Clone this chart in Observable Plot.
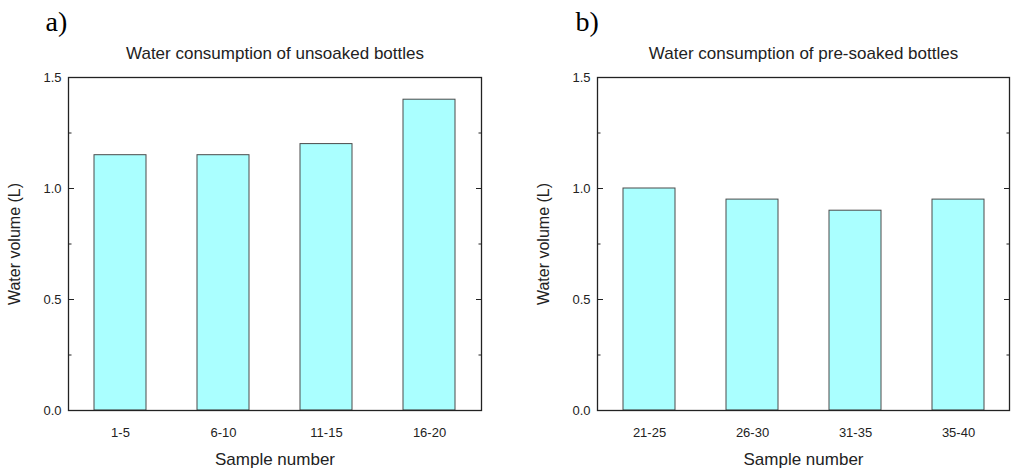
<!DOCTYPE html>
<html>
<head>
<meta charset="utf-8">
<script src="https://cdn.jsdelivr.net/npm/d3@7"></script>
<script src="https://cdn.jsdelivr.net/npm/@observablehq/plot@0.6"></script>
<style>
  html, body { margin: 0; padding: 0; background: #fff; }
  #fig { display: flex; width: 1011px; height: 471px; }
</style>
</head>
<body>
<div id="fig"></div>
<script>
const catsA = ["1-5", "6-10", "11-15", "16-20"];
const valsA = [1.15, 1.15, 1.2, 1.4];
const catsB = ["21-25", "26-30", "31-35", "35-40"];
const valsB = [1.0, 0.95, 0.9, 0.95];
const majorTicks = [0, 0.5, 1.0, 1.5];
const minorTicks = [0.25, 0.75, 1.25];
const titleA = "Water consumption of unsoaked bottles";
const titleB = "Water consumption of pre-soaked bottles";
const xLabel = "Sample number";
const yLabel = "Water volume (L)";

function panel({cats, vals, title, tag, width, marginLeft, marginRight, tagDx}) {
  const data = cats.map((c, i) => ({cat: c, val: vals[i]}));
  return Plot.plot({
    width, height: 471,
    marginLeft, marginRight, marginTop: 77, marginBottom: 61,
    style: {fontFamily: "Arial, 'Liberation Sans', sans-serif", fontSize: "13px", color: "#222", background: "#fff"},
    x: {domain: cats, paddingInner: 0.5, paddingOuter: 0.25},
    y: {domain: [0, 1.5]},
    marks: [
      Plot.barY(data, {x: "cat", y: "val", fill: "#aaffff", stroke: "#4a4a4a", strokeWidth: 1}),
      Plot.frame({stroke: "#222", strokeWidth: 1.3}),
      Plot.axisY({anchor: "left", ticks: majorTicks, tickSize: 0, tickPadding: 7, tickFormat: d3.format(".1f"), label: null, fontSize: 13}),
      Plot.axisY({anchor: "left", ticks: majorTicks, tickSize: -6, tickFormat: () => "", label: null}),
      Plot.axisY({anchor: "left", ticks: minorTicks, tickSize: -3.5, tickFormat: () => "", label: null}),
      Plot.axisY({anchor: "right", ticks: majorTicks, tickSize: -6, tickFormat: () => "", label: null}),
      Plot.axisY({anchor: "right", ticks: minorTicks, tickSize: -3.5, tickFormat: () => "", label: null}),
      Plot.axisX({anchor: "bottom", tickSize: 0, tickPadding: 17, label: null, fontSize: 13}),
      Plot.text([xLabel], {frameAnchor: "bottom", dy: 49, fontSize: 17, lineAnchor: "middle", textAnchor: "middle"}),
      Plot.text([yLabel], {frameAnchor: "left", dx: -54, rotate: -90, fontSize: 16, lineAnchor: "middle", textAnchor: "middle"}),
      Plot.text([title], {frameAnchor: "top", dy: -24, fontSize: 17, lineAnchor: "middle", textAnchor: "middle"}),
      Plot.text([tag], {frameAnchor: "top-left", dx: tagDx, dy: -46.5, textAnchor: "start", lineAnchor: "bottom", fontSize: 28, fontFamily: "'Liberation Serif', 'Times New Roman', serif", fill: "#000"})
    ]
  });
}

const fig = document.getElementById("fig");
fig.append(panel({cats: catsA, vals: valsA, title: titleA, tag: "a)", width: 505, marginLeft: 68, marginRight: 24, tagDx: -23}));
fig.append(panel({cats: catsB, vals: valsB, title: titleB, tag: "b)", width: 506, marginLeft: 92, marginRight: 2, tagDx: -22}));
</script>
</body>
</html>
